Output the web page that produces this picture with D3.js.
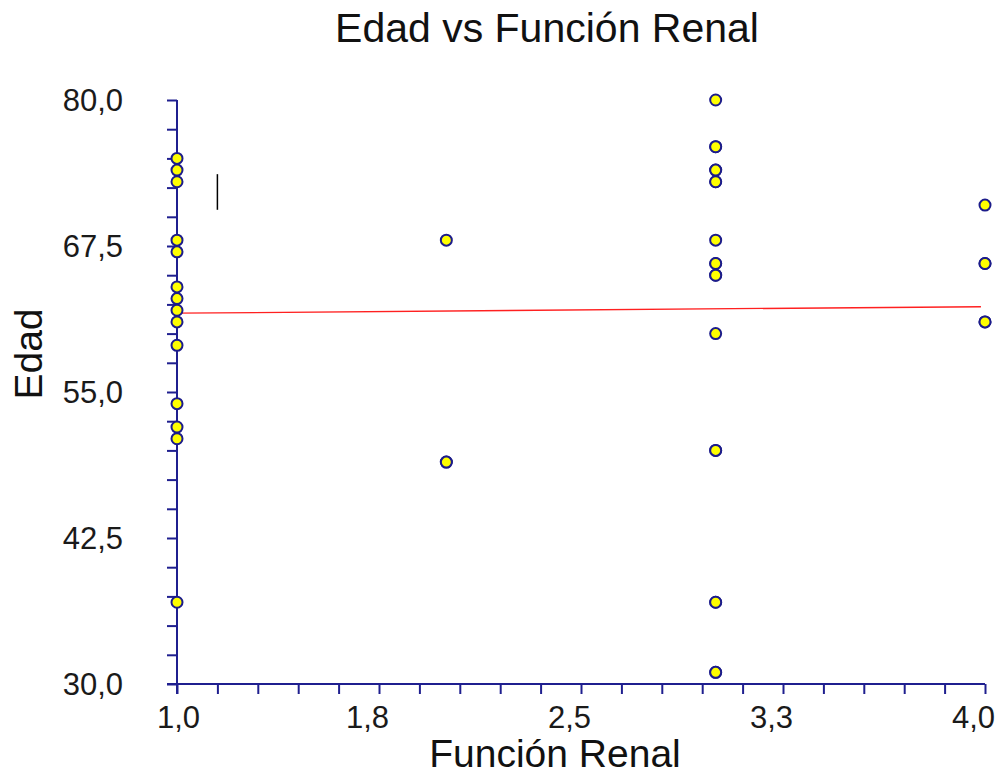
<!DOCTYPE html>
<html>
<head>
<meta charset="utf-8">
<script src="https://cdn.jsdelivr.net/npm/d3@7"></script>
<style>
  html, body { margin: 0; padding: 0; background: #ffffff; }
  svg { display: block; font-family: "Liberation Sans", Arial, sans-serif; }
</style>
</head>
<body>
<svg id="chart" width="996" height="779"></svg>
<script>
// ---- Data ----
const title = "Edad vs Función Renal";
const xLabel = "Función Renal";
const yLabel = "Edad";

// Función Renal (x) and Edad (y); repeated pairs are overlapping points
const funcionRenal = [
  1,1,1,1,1,1,1,1,1,1,1,1,1,1,
  2,2,2,
  3,3,3,3,3,3,3,3,3,3,3,3,3,3,3,3,3,3,3,
  4,4,4,4,4
];
const edad = [
  75,74,73,68,67,64,63,62,61,59,54,52,51,37,
  68,49,49,
  80,76,76,74,74,73,73,68,66,66,65,65,60,50,50,37,37,31,31,
  71,66,66,61,61
];

// Fitted line end points (x, y)
const fitX = [1, 3.985];
const fitY = [61.75, 62.3];

// Stray vertical mark in the plot (x, y1, y2)
const cursorX = [1.15];
const cursorY = [73.65, 70.6];

const xTickValues = [1.0, 1.75, 2.5, 3.25, 4.0];
const xTickLabels = ["1,0", "1,8", "2,5", "3,3", "4,0"];
const yTickValues = [30, 42.5, 55, 67.5, 80];
const yTickLabels = ["30,0", "42,5", "55,0", "67,5", "80,0"];

// ---- Layout ----
const plotLeft = 177, plotRight = 985, plotTop = 100, plotBottom = 684;
const axisColor = "#1f1f8f";

const svg = d3.select("#chart");

const x = d3.scaleLinear().domain([1, 4]).range([plotLeft, plotRight]);
const y = d3.scaleLinear().domain([30, 80]).range([plotBottom, plotTop]);

// minor/major ticks every 0.15 on x, every 2.5 on y
const xAllTicks = d3.range(0, 21).map(i => 1 + i * 0.15);
const yAllTicks = d3.range(0, 21).map(i => 30 + i * 2.5);

// X axis tick marks
const gx = svg.append("g").attr("transform", `translate(0,${plotBottom})`)
  .call(d3.axisBottom(x).tickValues(xAllTicks).tickSize(10).tickFormat(""));
gx.select(".domain").attr("stroke", axisColor).attr("stroke-width", 2)
  .attr("d", `M${plotLeft - 10},0H${plotRight}`);
gx.selectAll(".tick line").attr("stroke", axisColor).attr("stroke-width", 2);

// X tick labels
const gxl = svg.append("g").attr("transform", `translate(0,${plotBottom})`)
  .call(d3.axisBottom(x).tickValues(xTickValues).tickSize(0)
    .tickFormat((d, i) => xTickLabels[i]));
gxl.select(".domain").remove();
gxl.selectAll(".tick text")
  .attr("y", 44)
  .attr("dy", 0)
  .attr("dx", (d, i) => i === 0 ? 1 : -12)
  .attr("font-size", 31)
  .attr("font-family", "Liberation Sans, Arial, sans-serif")
  .attr("fill", "#1a1a1a");

// Y axis tick marks
const gy = svg.append("g").attr("transform", `translate(${plotLeft},0)`)
  .call(d3.axisLeft(y).tickValues(yAllTicks).tickSize(10).tickFormat(""));
gy.select(".domain").attr("stroke", axisColor).attr("stroke-width", 2)
  .attr("d", `M0,${plotTop}V${plotBottom + 10}`);
gy.selectAll(".tick line").attr("stroke", axisColor).attr("stroke-width", 2);

// Y tick labels
const gyl = svg.append("g").attr("transform", `translate(${plotLeft},0)`)
  .call(d3.axisLeft(y).tickValues(yTickValues).tickSize(0)
    .tickFormat((d, i) => yTickLabels[i]));
gyl.select(".domain").remove();
gyl.selectAll(".tick text")
  .attr("x", -54)
  .attr("dy", "0.33em")
  .attr("font-size", 31)
  .attr("font-family", "Liberation Sans, Arial, sans-serif")
  .attr("fill", "#1a1a1a");

// Fitted line
svg.append("path")
  .datum(fitX.map((v, i) => [v, fitY[i]]))
  .attr("fill", "none")
  .attr("stroke", "#ff2020")
  .attr("stroke-width", 1.3)
  .attr("d", d3.line().x(d => x(d[0])).y(d => y(d[1])));

// Stray mark
svg.append("line")
  .attr("x1", x(cursorX[0])).attr("x2", x(cursorX[0]))
  .attr("y1", y(cursorY[0])).attr("y2", y(cursorY[1]))
  .attr("stroke", "#000").attr("stroke-width", 1.5);

// Points
svg.append("g").selectAll("circle")
  .data(funcionRenal.map((v, i) => [v, edad[i]]))
  .join("circle")
  .attr("cx", d => x(d[0]))
  .attr("cy", d => y(d[1]))
  .attr("r", 5.5)
  .attr("fill", "#ffff00")
  .attr("stroke", "#1c1c8a")
  .attr("stroke-width", 2);

// Title and axis labels
svg.append("text")
  .attr("x", 547).attr("y", 42)
  .attr("text-anchor", "middle")
  .attr("font-size", 41)
  .attr("fill", "#111")
  .text(title);

svg.append("text")
  .attr("x", 555).attr("y", 767)
  .attr("text-anchor", "middle")
  .attr("font-size", 39)
  .attr("fill", "#111")
  .text(xLabel);

svg.append("text")
  .attr("transform", "translate(42,354) rotate(-90)")
  .attr("text-anchor", "middle")
  .attr("font-size", 39)
  .attr("fill", "#111")
  .text(yLabel);
</script>
</body>
</html>
